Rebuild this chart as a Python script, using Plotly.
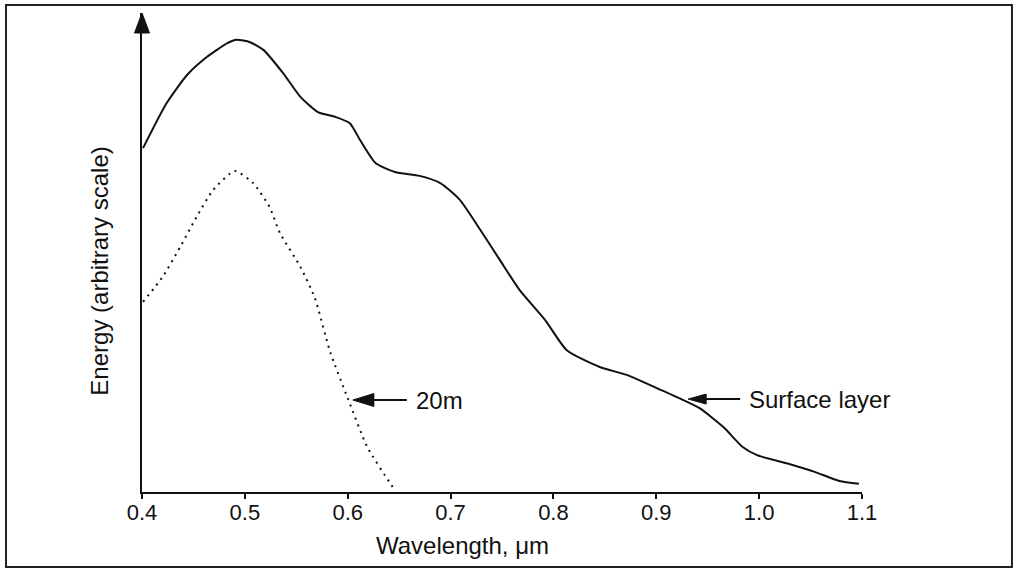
import plotly.graph_objects as go

# Spectral energy at the surface layer (solid) and at 20 m depth (dotted)
wl_surface = [0.401, 0.424, 0.444, 0.463, 0.483, 0.492, 0.505, 0.518, 0.537, 0.554,
              0.571, 0.588, 0.602, 0.612, 0.627, 0.646, 0.670, 0.690, 0.709, 0.729,
              0.748, 0.767, 0.792, 0.813, 0.845, 0.872, 0.894, 0.920, 0.942, 0.965,
              0.984, 0.998, 1.030, 1.054, 1.078, 1.097]
energy_surface = [71.8, 81.2, 87.1, 90.8, 93.7, 94.4, 93.9, 92.3, 87.5, 82.5,
                  79.3, 78.3, 77.0, 73.5, 68.7, 66.8, 66.0, 64.5, 61.0, 54.7,
                  48.4, 42.2, 35.9, 29.6, 26.1, 24.4, 22.3, 19.8, 17.5, 13.6,
                  9.4, 7.7, 5.8, 4.2, 2.3, 1.7]

wl_20m = [0.401, 0.420, 0.437, 0.453, 0.469, 0.490, 0.508, 0.524, 0.534, 0.554,
          0.568, 0.583, 0.600, 0.619, 0.641, 0.646]
energy_20m = [39.7, 44.9, 51.1, 57.4, 63.0, 67.0, 64.5, 59.5, 54.1, 47.0,
              40.5, 29.2, 19.6, 9.4, 1.9, 0.4]

tick_vals = [0.4, 0.5, 0.6, 0.7, 0.8, 0.9, 1.0, 1.1]
tick_text = ["0.4", "0.5", "0.6", "0.7", "0.8", "0.9", "1.0", "1.1"]

# label anchors on each curve
label_20m = (0.605, 19.2)
label_surface = (0.931, 19.4)

INK = "#111111"
FONT = "Liberation Sans, Arial, Helvetica, sans-serif"

fig = go.Figure()
fig.add_trace(go.Scatter(x=wl_surface, y=energy_surface, mode="lines",
                         line=dict(color=INK, width=2, shape="spline", smoothing=0.6),
                         hoverinfo="skip", showlegend=False))
fig.add_trace(go.Scatter(x=wl_20m, y=energy_20m, mode="lines",
                         line=dict(color=INK, width=2, shape="spline", smoothing=0.6,
                                   dash="2px,5px"),
                         hoverinfo="skip", showlegend=False))


def arrow_shapes(x, y, length, head_len, head_half):
    """Left-pointing arrow whose tip sits on (x, y); sizes in pixels."""
    return [
        dict(type="line", xref="x", yref="y", xsizemode="pixel", ysizemode="pixel",
             xanchor=x, yanchor=y, x0=head_len - 2, x1=length, y0=0, y1=0,
             line=dict(color=INK, width=2)),
        dict(type="path", xref="x", yref="y", xsizemode="pixel", ysizemode="pixel",
             xanchor=x, yanchor=y,
             path=f"M0,0 L{head_len},{head_half} L{head_len},{-head_half} Z",
             fillcolor=INK, line=dict(color=INK, width=1)),
    ]


shapes = []
shapes += arrow_shapes(*label_20m, length=54, head_len=21, head_half=6.5)
shapes += arrow_shapes(*label_surface, length=52, head_len=18, head_half=5)
# arrowhead on top of the energy axis
shapes.append(dict(type="path", xref="paper", yref="paper", xsizemode="pixel", ysizemode="pixel",
                   xanchor=0, yanchor=1, path="M0,0 L-7.5,-20 L7.5,-20 Z",
                   fillcolor=INK, line=dict(color=INK, width=1)))
# frame around the figure
shapes.append(dict(type="rect", xref="paper", yref="paper",
                   x0=-0.1889, x1=1.2083, y0=-0.1566, y1=1.0167,
                   line=dict(color="#222222", width=2)))

annotations = [
    dict(x=label_20m[0], y=label_20m[1], xref="x", yref="y", text="20m",
         showarrow=False, xanchor="left", yanchor="middle", xshift=61,
         font=dict(family=FONT, size=24, color=INK)),
    dict(x=label_surface[0], y=label_surface[1], xref="x", yref="y", text="Surface layer",
         showarrow=False, xanchor="left", yanchor="middle", xshift=59,
         font=dict(family=FONT, size=24, color=INK)),
    dict(x=0.445, y=0, xref="paper", yref="paper", text="Wavelength, \u03bcm",
         showarrow=False, xanchor="center", yanchor="middle", yshift=-53,
         font=dict(family=FONT, size=24, color=INK)),
    dict(x=0, y=0.46, xref="paper", yref="paper", text="Energy (arbitrary scale)",
         showarrow=False, xanchor="center", yanchor="middle", xshift=-42, textangle=-90,
         font=dict(family=FONT, size=24, color=INK)),
]

fig.update_layout(
    width=1015, height=570,
    margin=dict(l=142, r=153, t=13, b=78),
    paper_bgcolor="white", plot_bgcolor="white",
    shapes=shapes, annotations=annotations,
    xaxis=dict(range=[0.4, 1.1], tickvals=tick_vals, ticktext=tick_text,
               showline=True, linecolor=INK, linewidth=2, showgrid=False, zeroline=False,
               ticks="outside", ticklen=5, tickwidth=1.5, tickcolor=INK,
               ticklabelstandoff=-5,
               tickfont=dict(family=FONT, size=22, color=INK)),
    yaxis=dict(range=[0, 100], showline=True, linecolor=INK, linewidth=2,
               showgrid=False, zeroline=False, showticklabels=False, ticks=""),
)

fig.write_html("out.html")
